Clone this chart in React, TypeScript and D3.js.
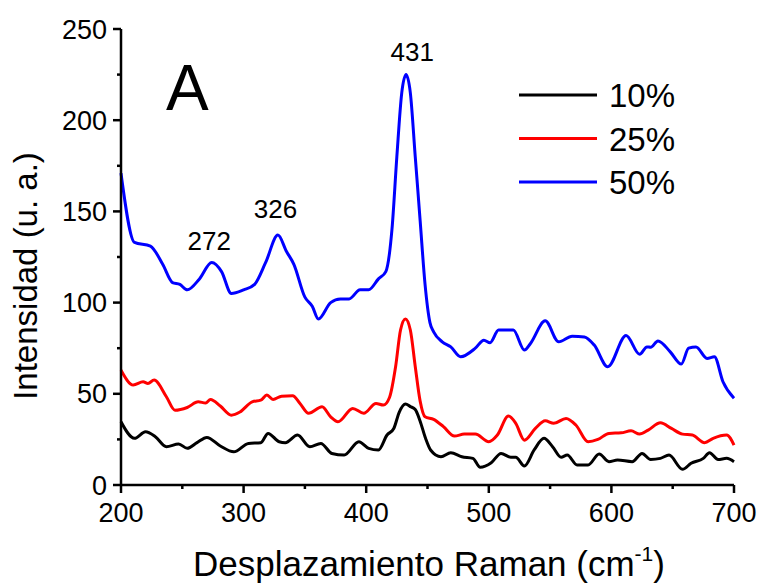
import React from "react";
import * as d3 from "d3";

const blueX = [200, 211, 224, 234, 242, 248, 254, 264, 274, 282, 290, 300, 309, 318, 328, 335, 341, 350, 356, 361, 371, 379, 386, 395, 402, 410, 416, 421, 425, 429, 432.5, 436, 440, 444, 448, 452, 455, 462, 469, 477, 489, 496, 501, 508, 520, 529, 534, 546, 557, 568, 578, 586, 597, 612, 623, 629, 632, 638, 648, 657, 663, 669, 678, 684, 691, 700];
const blueY = [171, 133, 131, 121, 111, 110, 107, 113, 122, 117, 105, 107, 110, 122, 137, 128, 121, 103, 98, 91, 100, 102, 102, 107, 107, 113, 117, 140, 180, 215, 225, 215, 180, 145, 110, 89, 84, 78.5, 75.7, 70.3, 75, 79.4, 78, 85, 85, 74, 77.6, 90, 78.5, 81.6, 81.2, 76.7, 64.8, 82, 71.7, 75.7, 75.5, 79, 73, 66.3, 75, 75.7, 69.4, 70.3, 56.6, 47.5];

const redX = [200, 210, 218, 222, 227, 237, 244, 254, 263, 269, 273, 281, 290, 297, 307, 314, 319, 324, 331, 340, 346, 353, 364, 371, 377, 389, 398, 408, 414, 419, 424, 428, 432, 436, 440, 444, 448, 455, 463, 472, 480, 489, 500, 507, 516, 522, 529, 538, 546, 553, 563, 571, 581, 589, 598, 608, 616, 623, 630, 640, 649, 658, 666, 676, 683, 694, 700];
const redY = [63, 54.8, 56.6, 55.7, 57.5, 48.4, 41, 42.5, 45.6, 45, 46.9, 43.3, 38.3, 40, 45.6, 46.5, 49.3, 46.9, 48.7, 48.9, 44.7, 39.3, 42.9, 37.4, 34.7, 42, 39.3, 44.7, 43.8, 48, 65, 85, 91, 85, 65, 46, 37.4, 36, 32, 26.8, 27.9, 27.9, 23.7, 27.4, 37.8, 33.8, 24.6, 31, 35.2, 33.8, 36.5, 32.9, 23.7, 25, 28.3, 28.6, 29.7, 27.9, 30.1, 34.1, 31, 27.9, 27.4, 23.2, 25.6, 27.4, 21.9];

const blackX = [200, 211, 220, 228, 237, 247, 254, 262, 270, 281, 292, 304, 314, 320, 329, 334, 344, 354, 363, 372, 382, 394, 402, 410, 417, 422.5, 427, 432, 436, 440, 444, 448.4, 452.5, 461, 469, 478, 487, 493, 502, 510, 518, 522, 529, 537, 545, 552, 559, 564, 572, 581, 590, 598, 605, 617, 625, 632, 640, 647, 658, 665, 675, 680, 687, 694, 700];
const blackY = [34.7, 25.6, 29.2, 26.5, 21, 22.5, 20.1, 23.2, 26.1, 21.4, 18.2, 22.8, 23.2, 28.3, 23.7, 23.2, 27.4, 21, 22.8, 17.3, 16.4, 23.7, 20.1, 19.2, 27.4, 31, 40, 44.4, 43, 41.4, 35, 25.6, 19.2, 15.5, 17.7, 15.5, 14.6, 9.7, 12.2, 17.3, 15.2, 15.2, 10.4, 19.2, 25.6, 21, 15.2, 16.4, 11, 11, 17, 12.8, 13.7, 12.8, 17.3, 14, 14.6, 16.4, 8.6, 11.9, 14.6, 17.7, 14, 14.6, 12.8];

const seriesNames = ["10%", "25%", "50%"];
const seriesColors = ["#000000", "#ff0000", "#0000ff"];
const xTicks = [200, 300, 400, 500, 600, 700];
const yTicks = [0, 50, 100, 150, 200, 250];
const peakX = [272, 326, 431];
const peakY = [122, 137, 225];
const peakText = ["272", "326", "431"];

export default function App() {
  const x = d3.scaleLinear().domain([200, 700]).range([121, 734]);
  const y = d3.scaleLinear().domain([0, 250]).range([485, 29]);
  const line = d3
    .line<[number, number]>()
    .x((d) => x(d[0]))
    .y((d) => y(d[1]))
    .curve(d3.curveMonotoneX);
  const series = [
    blackX.map((v, i) => [v, blackY[i]] as [number, number]),
    redX.map((v, i) => [v, redY[i]] as [number, number]),
    blueX.map((v, i) => [v, blueY[i]] as [number, number]),
  ];
  const xMinor = d3.range(250, 700, 100);
  const yMinor = d3.range(25, 250, 50);
  const font = "Liberation Sans, Arial, sans-serif";
  const peakDy = [12, 17, 14];
  const peakDx = [0, 0, 8];

  return (
    <svg width={760} height={587} style={{ position: "absolute", left: 0, top: 0 }} fontFamily={font}>
      <rect width={760} height={587} fill="#fff" />
      {series.map((s, i) => (
        <path key={i} d={line(s) || ""} fill="none" stroke={seriesColors[i]} strokeWidth={3} strokeLinejoin="round" />
      ))}
      <line x1={x(200)} x2={x(700)} y1={y(0)} y2={y(0)} stroke="#000" strokeWidth={2.5} />
      <line x1={x(200)} x2={x(200)} y1={y(0)} y2={y(250)} stroke="#000" strokeWidth={2.5} />
      {xTicks.map((t) => (
        <g key={"xt" + t}>
          <line x1={x(t)} x2={x(t)} y1={y(0)} y2={y(0) + 8} stroke="#000" strokeWidth={2.5} />
          <text x={x(t)} y={522} fontSize={27} textAnchor="middle">{t}</text>
        </g>
      ))}
      {xMinor.map((t) => (
        <line key={"xm" + t} x1={x(t)} x2={x(t)} y1={y(0)} y2={y(0) + 4} stroke="#000" strokeWidth={2.5} />
      ))}
      {yTicks.map((t) => (
        <g key={"yt" + t}>
          <line x1={x(200) - 8} x2={x(200)} y1={y(t)} y2={y(t)} stroke="#000" strokeWidth={2.5} />
          <text x={107} y={y(t) + 9.5} fontSize={27} textAnchor="end">{t}</text>
        </g>
      ))}
      {yMinor.map((t) => (
        <line key={"ym" + t} x1={x(200) - 4} x2={x(200)} y1={y(t)} y2={y(t)} stroke="#000" strokeWidth={2.5} />
      ))}
      <text transform="translate(37,276) rotate(-90)" fontSize={33} textAnchor="middle">Intensidad (u. a.)</text>
      <text x={429} y={576} fontSize={35} textAnchor="middle">
        Desplazamiento Raman (cm<tspan fontSize={21} dy={-15}>-1</tspan><tspan dy={15}>)</tspan>
      </text>
      <text x={166} y={110} fontSize={64}>A</text>
      {peakText.map((p, i) => (
        <text key={p} x={x(peakX[i]) + peakDx[i]} y={y(peakY[i]) - peakDy[i]} fontSize={26} textAnchor="middle">{p}</text>
      ))}
      {seriesNames.map((n, i) => (
        <g key={n}>
          <line x1={519} x2={597} y1={95 + i * 43.5} y2={95 + i * 43.5} stroke={seriesColors[i]} strokeWidth={3} />
          <text x={609} y={107 + i * 43.5} fontSize={33}>{n}</text>
        </g>
      ))}
    </svg>
  );
}
